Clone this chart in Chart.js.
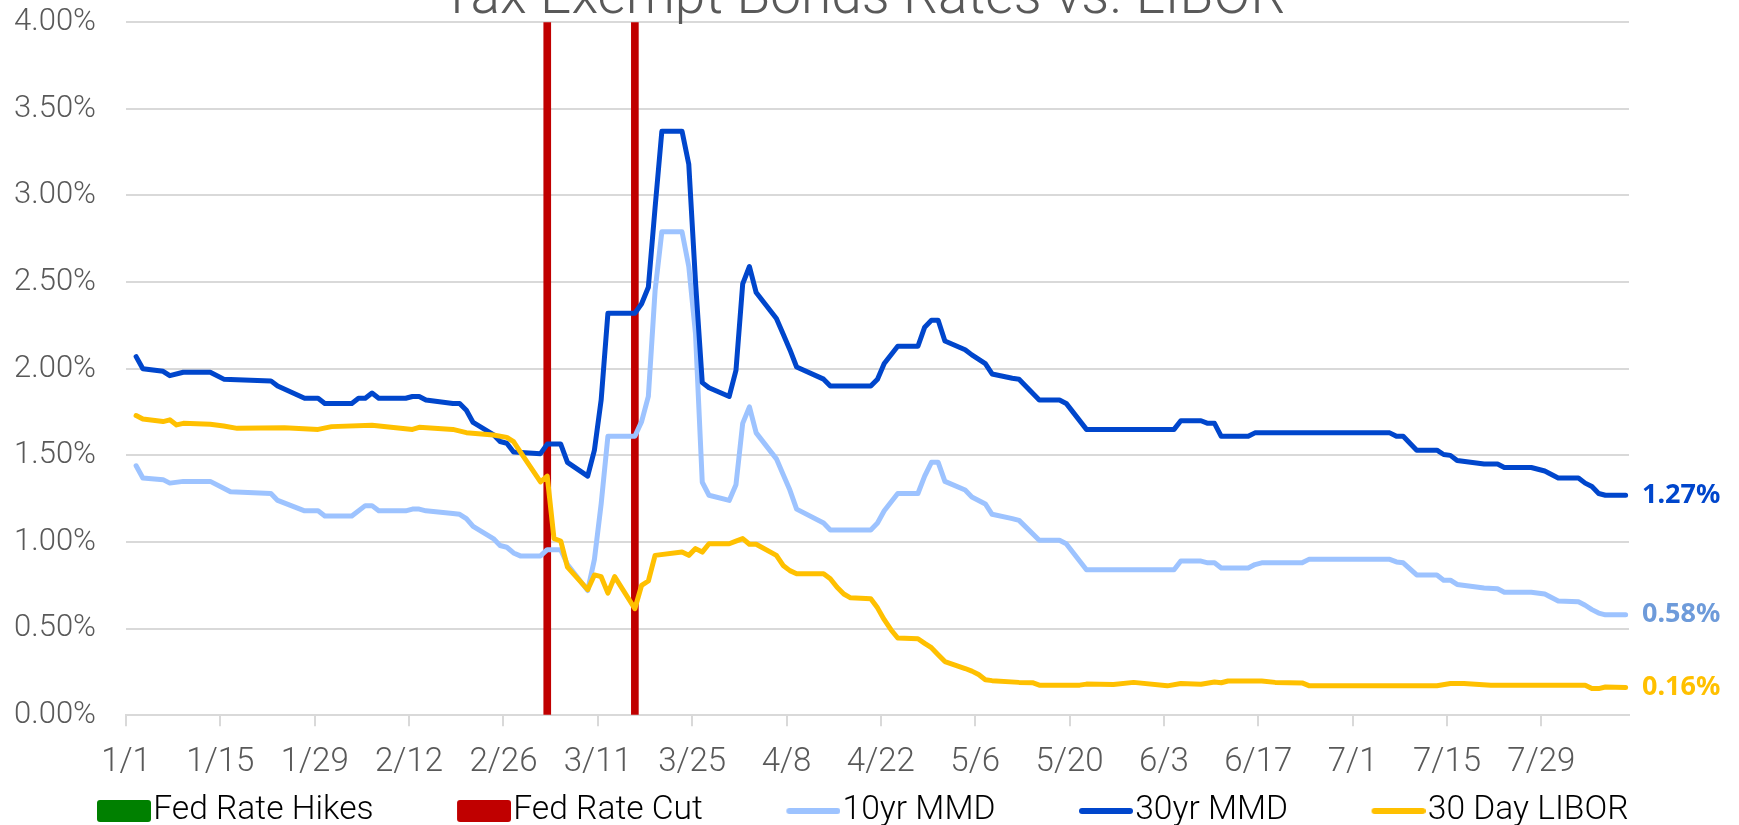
<!DOCTYPE html>
<html>
<head>
<meta charset="utf-8">
<script src="https://cdn.jsdelivr.net/npm/chart.js@4.4.1/dist/chart.umd.min.js"></script>
<style>
  html, body { margin: 0; padding: 0; background: #ffffff; }
  #wrap { width: 1739px; height: 825px; }
</style>
</head>
<body>
<div id="wrap"><canvas id="c" width="1739" height="825"></canvas></div>
<script>
// ---------------- DATA ----------------
const chartTitle = 'Tax Exempt Bonds Rates vs. LIBOR';
const seriesNames = ['Fed Rate Hikes', 'Fed Rate Cut', '10yr MMD', '30yr MMD', '30 Day LIBOR'];
const xTickLabels = ['1/1','1/15','1/29','2/12','2/26','3/11','3/25','4/8','4/22','5/6','5/20','6/3','6/17','7/1','7/15','7/29'];
const yTickLabels = ['0.00%','0.50%','1.00%','1.50%','2.00%','2.50%','3.00%','3.50%','4.00%'];
const lastDate = '8/10';

const fedHikeDates = [];
const fedCutDates = ['3/3', '3/16'];
const fedCutLevel = 4.0;

const dates30 = ['1/2','1/3','1/6','1/7','1/9','1/13','1/15','1/22','1/23','1/27','1/29','1/30','2/3','2/4','2/5','2/6','2/7','2/11','2/12','2/13','2/14','2/18','2/19','2/20','2/21','2/24','2/25','2/26','2/27','3/2','3/3','3/5','3/6','3/9','3/10','3/11','3/12','3/16','3/17','3/18','3/19','3/20','3/23','3/24','3/25','3/26','3/27','3/30','3/31','4/1','4/2','4/3','4/6','4/7','4/8','4/9','4/13','4/14','4/20','4/21','4/22','4/24','4/27','4/28','4/29','4/30','5/1','5/4','5/5','5/7','5/8','5/11','5/12','5/15','5/18','5/19','5/22','6/4','6/5','6/8','6/9','6/10','6/11','6/15','6/16','7/6','7/7','7/8','7/10','7/13','7/14','7/15','7/16','7/20','7/22','7/23','7/27','7/29','7/31','8/3','8/4','8/5','8/6','8/7','8/10'];
const mmd30 = [2.07,2.00,1.985,1.96,1.98,1.98,1.94,1.93,1.90,1.83,1.83,1.80,1.80,1.83,1.83,1.86,1.83,1.83,1.84,1.84,1.82,1.80,1.80,1.76,1.69,1.62,1.58,1.57,1.52,1.51,1.565,1.565,1.46,1.38,1.53,1.82,2.32,2.32,2.375,2.47,2.93,3.37,3.37,3.18,2.50,1.92,1.89,1.84,1.99,2.49,2.59,2.44,2.29,2.20,2.11,2.01,1.94,1.90,1.90,1.94,2.03,2.13,2.13,2.24,2.28,2.28,2.16,2.11,2.08,2.03,1.97,1.945,1.94,1.82,1.82,1.80,1.65,1.65,1.70,1.70,1.685,1.685,1.61,1.61,1.63,1.63,1.61,1.61,1.53,1.53,1.505,1.50,1.47,1.45,1.45,1.43,1.43,1.41,1.37,1.37,1.34,1.32,1.28,1.27,1.27];

const dates10 = ['1/2','1/3','1/6','1/7','1/9','1/13','1/16','1/22','1/23','1/27','1/29','1/30','2/3','2/5','2/6','2/7','2/11','2/12','2/13','2/14','2/18','2/19','2/20','2/21','2/24','2/25','2/26','2/27','2/28','3/2','3/3','3/5','3/6','3/9','3/10','3/11','3/12','3/16','3/17','3/18','3/19','3/20','3/23','3/24','3/25','3/26','3/27','3/30','3/31','4/1','4/2','4/3','4/6','4/7','4/8','4/9','4/13','4/14','4/20','4/21','4/22','4/24','4/27','4/28','4/29','4/30','5/1','5/4','5/5','5/7','5/8','5/11','5/12','5/15','5/18','5/19','5/22','6/4','6/5','6/8','6/9','6/10','6/11','6/15','6/16','6/17','6/23','6/24','7/6','7/7','7/8','7/10','7/13','7/14','7/15','7/16','7/20','7/22','7/23','7/27','7/29','7/31','8/3','8/4','8/5','8/6','8/7','8/10'];
const mmd10 = [1.44,1.37,1.36,1.34,1.35,1.35,1.29,1.28,1.24,1.18,1.18,1.15,1.15,1.21,1.21,1.18,1.18,1.19,1.19,1.18,1.165,1.16,1.135,1.09,1.02,0.98,0.97,0.937,0.92,0.92,0.956,0.956,0.87,0.72,0.90,1.22,1.61,1.61,1.695,1.84,2.45,2.79,2.79,2.59,2.20,1.345,1.27,1.24,1.33,1.685,1.78,1.63,1.48,1.39,1.30,1.19,1.11,1.07,1.07,1.11,1.18,1.28,1.28,1.38,1.46,1.46,1.35,1.30,1.26,1.22,1.16,1.135,1.125,1.01,1.01,0.99,0.84,0.84,0.89,0.89,0.88,0.88,0.85,0.85,0.87,0.88,0.88,0.90,0.90,0.885,0.88,0.81,0.81,0.78,0.78,0.755,0.735,0.73,0.71,0.71,0.70,0.66,0.655,0.635,0.61,0.59,0.58,0.58];

const datesLibor = ['1/2','1/3','1/6','1/7','1/8','1/9','1/13','1/15','1/17','1/24','1/29','1/31','2/6','2/12','2/13','2/18','2/20','2/24','2/26','2/27','2/28','3/2','3/3','3/4','3/5','3/6','3/9','3/10','3/11','3/12','3/13','3/16','3/17','3/18','3/19','3/23','3/24','3/25','3/26','3/27','3/30','3/31','4/1','4/2','4/3','4/6','4/7','4/8','4/9','4/13','4/14','4/15','4/16','4/17','4/20','4/21','4/22','4/23','4/24','4/27','4/28','4/29','4/30','5/1','5/4','5/5','5/6','5/7','5/8','5/12','5/14','5/15','5/21','5/22','5/26','5/29','6/3','6/5','6/8','6/10','6/11','6/12','6/17','6/19','6/23','6/24','7/13','7/15','7/17','7/21','8/4','8/5','8/6','8/7','8/10'];
const libor30 = [1.73,1.71,1.695,1.705,1.676,1.685,1.68,1.67,1.656,1.66,1.65,1.666,1.674,1.65,1.662,1.65,1.631,1.618,1.604,1.579,1.52,1.347,1.38,1.02,1.006,0.855,0.725,0.81,0.80,0.705,0.80,0.615,0.75,0.775,0.923,0.942,0.923,0.962,0.942,0.99,0.99,1.005,1.02,0.987,0.987,0.923,0.865,0.835,0.817,0.817,0.788,0.739,0.70,0.678,0.672,0.62,0.552,0.494,0.446,0.442,0.415,0.39,0.35,0.31,0.27,0.255,0.235,0.205,0.20,0.19,0.188,0.174,0.174,0.18,0.178,0.19,0.17,0.183,0.179,0.192,0.188,0.198,0.198,0.19,0.187,0.171,0.171,0.183,0.183,0.173,0.173,0.154,0.154,0.163,0.16];

// ---------------- STYLES ----------------
const gray = '#595959';
const gridGray = '#d9d9d9';
const colHike = '#008000';
const colCut = '#C00000';
const col10 = '#9DC3FF';
const col30 = '#0046CC';
const colLibor = '#FFC000';
const endLabelColors = { 2: '#6E9BDA', 3: '#0046CC', 4: '#FFC000' };

// 2020 calendar (leap year): day index from 1/1
const monthStart = [0, 31, 60, 91, 121, 152, 182, 213, 244, 274, 305, 335];
function dayIndex(md) {
  const [m, d] = md.split('/').map(Number);
  return monthStart[m - 1] + d - 1;
}
function toPoints(dates, vals) {
  return dates.map((d, i) => ({ x: dayIndex(d), y: vals[i] }));
}

const LEG_W = 150, LEG_H = 24, LEG_BOX = 54;
function legendImage(kind, color) {
  const c = document.createElement('canvas');
  c.width = LEG_W; c.height = LEG_H;
  const g = c.getContext('2d');
  const x0 = LEG_W - LEG_BOX;
  if (kind === 'box') {
    g.fillStyle = color;
    g.beginPath();
    if (g.roundRect) g.roundRect(x0, 1, LEG_BOX, 22, 3); else g.rect(x0, 1, LEG_BOX, 22);
    g.fill();
  } else {
    g.strokeStyle = color;
    g.lineWidth = 6;
    g.lineCap = 'round';
    g.beginPath();
    g.moveTo(x0 + 3, LEG_H / 2);
    g.lineTo(LEG_W - 3, LEG_H / 2);
    g.stroke();
  }
  return c;
}

const annotPlugin = {
  id: 'annot',
  afterDatasetsDraw(chart) {
    const ctx = chart.ctx;
    const area = chart.chartArea;
    ctx.save();
    ctx.font = '700 27px "Noto Sans"';
    ctx.textAlign = 'left';
    ctx.textBaseline = 'middle';
    [2, 3, 4].forEach(i => {
      const meta = chart.getDatasetMeta(i);
      const ds = chart.data.datasets[i];
      const lastPt = meta.data[meta.data.length - 1];
      const v = ds.data[ds.data.length - 1].y;
      ctx.fillStyle = endLabelColors[i];
      ctx.fillText(v.toFixed(2) + '%', area.right + 13, lastPt.y);
    });
    ctx.font = '300 55px Roboto';
    ctx.fillStyle = gray;
    ctx.textAlign = 'center';
    ctx.textBaseline = 'alphabetic';
    ctx.fillText(chartTitle, chart.width / 2 - 6.5, 13.3);
    ctx.restore();
  }
};

function draw() {
  const legendImgs = [
    legendImage('box', colHike),
    legendImage('box', colCut),
    legendImage('line', col10),
    legendImage('line', col30),
    legendImage('line', colLibor)
  ];
  const xMax = dayIndex(lastDate) + 0.5;

  new Chart(document.getElementById('c'), {
    type: 'line',
    data: {
      datasets: [
        { type: 'bar', label: seriesNames[0], data: fedHikeDates.map(d => ({ x: dayIndex(d), y: fedCutLevel })),
          backgroundColor: colHike, barThickness: 7, grouped: false, order: 4 },
        { type: 'bar', label: seriesNames[1], data: fedCutDates.map(d => ({ x: dayIndex(d), y: fedCutLevel })),
          backgroundColor: colCut, barThickness: 7, grouped: false, order: 3 },
        { label: seriesNames[2], data: toPoints(dates10, mmd10), borderColor: col10, order: 2 },
        { label: seriesNames[3], data: toPoints(dates30, mmd30), borderColor: col30, order: 1 },
        { label: seriesNames[4], data: toPoints(datesLibor, libor30), borderColor: colLibor, order: 0 }
      ]
    },
    options: {
      responsive: false,
      animation: false,
      events: [],
      devicePixelRatio: 1,
      layout: { padding: { top: 22.2, left: 0, right: 95, bottom: 0 } },
      elements: {
        line: { borderWidth: 5, tension: 0, borderJoinStyle: 'round', borderCapStyle: 'round', fill: false },
        point: { radius: 0, hoverRadius: 0 }
      },
      scales: {
        x: {
          type: 'linear',
          offset: false,
          min: -0.5,
          max: xMax,
          afterBuildTicks: s => { s.ticks = xTickLabels.map(t => ({ value: dayIndex(t) - 0.5 })); },
          ticks: {
            autoSkip: false, maxRotation: 0, minRotation: 0,
            callback: (v, i) => xTickLabels[i],
            padding: 16.4,
            color: gray,
            font: { family: 'Roboto', weight: 300, size: 33 }
          },
          grid: { offset: false, drawOnChartArea: false, drawTicks: true, tickLength: 11, color: gridGray, lineWidth: 2 },
          border: { display: true, color: gridGray, width: 2 },
          afterFit: s => { s.height = 76.9; }
        },
        y: {
          min: 0, max: 4,
          afterBuildTicks: s => { s.ticks = yTickLabels.map(t => ({ value: parseFloat(t) })); },
          ticks: {
            callback: (v, i) => yTickLabels[i],
            padding: 30,
            color: gray,
            font: { family: 'Roboto', weight: 300, size: 31 }
          },
          grid: { color: gridGray, lineWidth: 2, drawTicks: false },
          border: { display: false },
          afterFit: s => { s.width = 126; s.paddingTop = 0; s.paddingBottom = 0; }
        },
        y2: {
          position: 'right',
          display: true,
          min: 0, max: 4,
          grid: { display: false },
          ticks: { display: false },
          border: { display: false },
          afterFit: s => { s.width = 15; s.paddingTop = 0; s.paddingBottom = 0; }
        }
      },
      plugins: {
        title: { display: false },
        tooltip: { enabled: false },
        legend: {
          position: 'bottom',
          align: 'center',
          maxHeight: 32.8,
          labels: {
            usePointStyle: true,
            pointStyleWidth: 121,
            boxHeight: 22,
            padding: 2,
            color: gray,
            font: { family: 'Roboto', weight: 300, size: 33.6 },
            generateLabels: chart => chart.data.datasets.map((ds, i) => ({
              text: ds.label,
              pointStyle: legendImgs[i],
              fillStyle: 'rgba(0,0,0,0)',
              strokeStyle: 'rgba(0,0,0,0)',
              lineWidth: 0,
              hidden: false,
              datasetIndex: i
            }))
          }
        }
      }
    },
    plugins: [annotPlugin]
  });
}

Promise.all([
  document.fonts.load('300 30px Roboto'),
  document.fonts.load('700 27px "Noto Sans"')
]).then(draw, draw);
</script>
</body>
</html>
